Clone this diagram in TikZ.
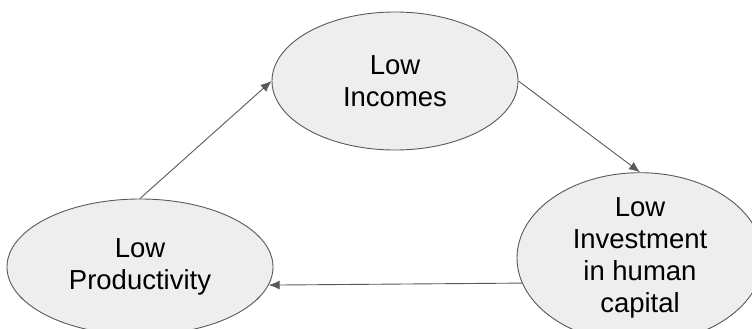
\documentclass[tikz,border=0pt]{standalone}
\usepackage{fontspec}
\setmainfont{Liberation Sans}
\usetikzlibrary{shapes.geometric,arrows.meta}
\definecolor{edgegray}{HTML}{595959}
\definecolor{fillgray}{HTML}{EEEEEE}

\begin{document}
\begin{tikzpicture}[x=1pt,y=-1pt,
  bubble/.style={ellipse,draw=edgegray,fill=fillgray,line width=0.9pt,inner sep=0pt,
    align=center,font=\fontsize{27.5}{32}\selectfont},
  arr/.style={draw=edgegray,line width=0.9pt,-{Latex[length=11pt,width=9pt]}}]
  \useasboundingbox (0,0) rectangle (752,329);

  \node[bubble,minimum width=246pt,minimum height=138pt] (incomes) at (395,81) {Low\\Incomes};
  \node[bubble,minimum width=266pt,minimum height=136pt] (productivity) at (140,267) {Low\\Productivity};
  \node[bubble,minimum width=246pt,minimum height=132pt] (investment) at (640,258) {Low\\Investment\\in human\\capital};

  % cycle
  \draw[arr] (incomes.east) -- (investment.north);
  \draw[arr] (investment.192) -- (productivity.-8);
  \draw[arr] (productivity.north) -- (incomes.west);
\end{tikzpicture}
\end{document}
